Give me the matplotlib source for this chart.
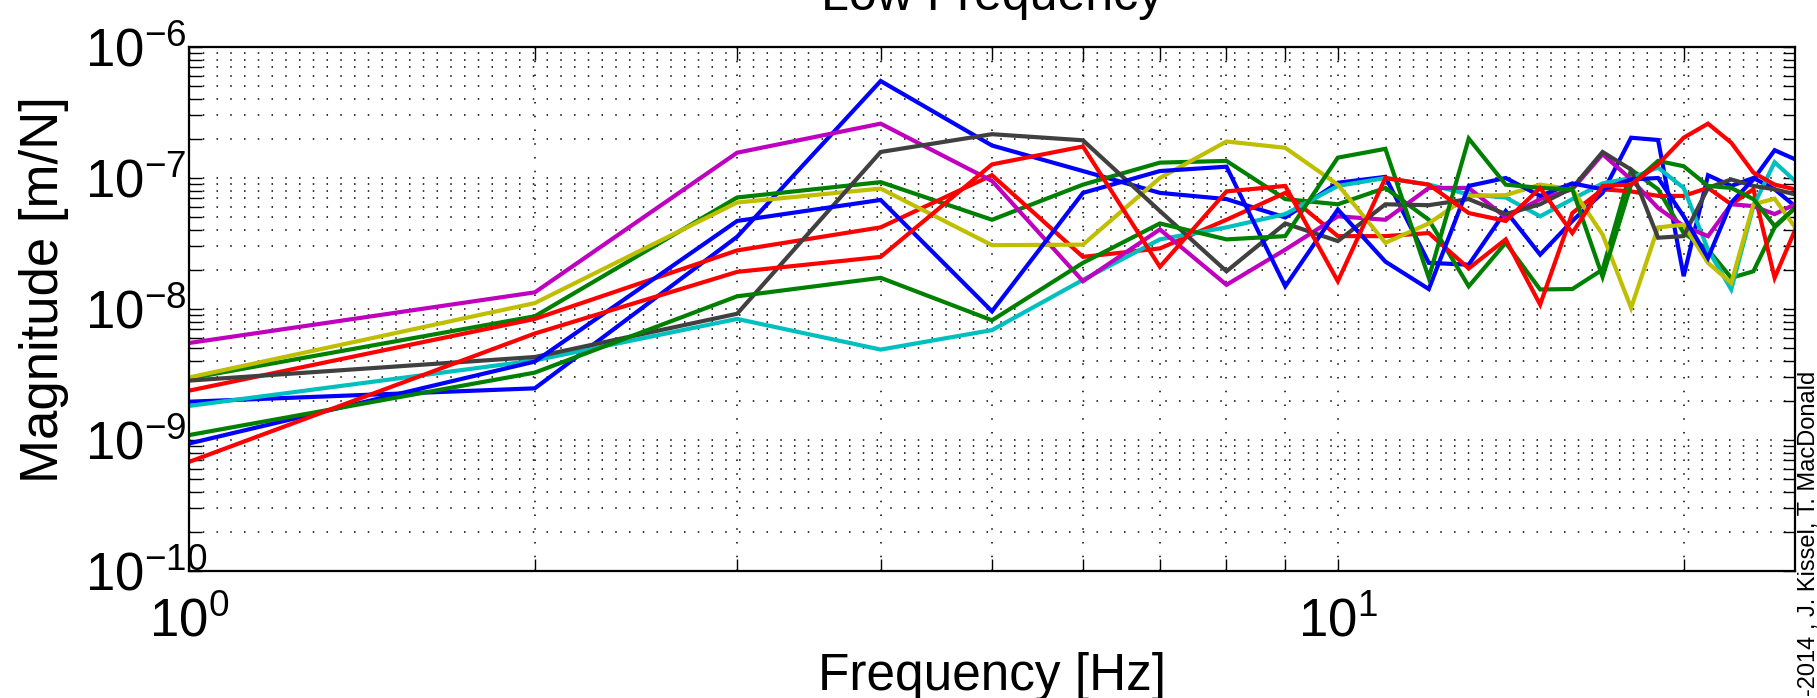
import numpy as np
import matplotlib
matplotlib.use("Agg")
import matplotlib.pyplot as plt
from matplotlib.ticker import FixedLocator, NullFormatter, FixedFormatter, LogLocator

# ---------------- data ----------------
freq = [1, 2, 3, 4, 5, 6, 7, 8, 9, 10, 11, 12, 13, 14, 15, 16, 17, 18, 19, 20, 21, 22, 23, 24, 25]

blue_a = [1.96e-9, 2.48e-9, 3.56e-8, 5.5e-7, 1.77e-7, 1.13e-7, 7.7e-8, 6.9e-8, 5.0e-8, 9.2e-8,
          1.02e-7, 2.25e-8, 2.18e-8, 5.6e-8, 2.6e-8, 4.7e-8, 7.7e-8, 2.03e-7, 1.95e-7, 1.78e-8,
          1.05e-7, 8.7e-8, 1.0e-7, 8.2e-8, 6.1e-8]
green_a = [2.95e-9, 8.8e-9, 7.1e-8, 9.3e-8, 4.8e-8, 8.9e-8, 1.31e-7, 1.35e-7, 6.9e-8, 6.3e-8,
           8.4e-8, 4.8e-8, 1.49e-8, 3.2e-8, 1.41e-8, 1.42e-8, 2.0e-8, 1.16e-7, 8.2e-8, 3.8e-8,
           2.84e-8, 1.73e-8, 1.94e-8, 4.2e-8, 5.9e-8]
red_a = [2.38e-9, 8.4e-9, 2.8e-8, 4.2e-8, 1.05e-7, 2.5e-8, 2.9e-8, 4.8e-8, 7.7e-8, 3.6e-8,
         3.6e-8, 3.8e-8, 2.04e-8, 3.4e-8, 1.08e-8, 5.4e-8, 8.2e-8, 7.9e-8, 7.3e-8, 7.3e-8,
         8.4e-8, 6.3e-8, 8.2e-8, 1.73e-8, 4.0e-8]
cyan = [1.82e-9, 4.05e-9, 8.4e-9, 4.9e-9, 6.9e-9, 1.67e-8, 3.4e-8, 4.2e-8, 5.3e-8, 8.7e-8,
        1.0e-7, 8.9e-8, 7.5e-8, 7.1e-8, 5.1e-8, 6.9e-8, 9.1e-8, 1.0e-7, 1.2e-7, 8.4e-8,
        2.84e-8, 1.41e-8, 6.1e-8, 1.32e-7, 9.5e-8]
magenta = [5.5e-9, 1.34e-8, 1.56e-7, 2.6e-7, 9.5e-8, 1.63e-8, 4.05e-8, 1.53e-8, 2.84e-8, 5.1e-8,
           4.8e-8, 8.4e-8, 8.4e-8, 5.0e-8, 6.9e-8, 8.2e-8, 1.52e-7, 9.75e-8, 5.9e-8, 4.3e-8,
           3.6e-8, 6.3e-8, 6.1e-8, 5.3e-8, 6.3e-8]
yellow = [3.0e-9, 1.11e-8, 6.5e-8, 8.3e-8, 3.07e-8, 3.1e-8, 1.0e-7, 1.9e-7, 1.7e-7, 8.9e-8,
          3.2e-8, 4.5e-8, 7.3e-8, 7.4e-8, 8.9e-8, 8.2e-8, 3.7e-8, 1.02e-8, 4.2e-8, 4.4e-8,
          2.25e-8, 1.58e-8, 6.3e-8, 6.95e-8, 4.2e-8]
gray = [2.84e-9, 4.3e-9, 9.2e-9, 1.58e-7, 2.16e-7, 1.94e-7, 5.6e-8, 1.94e-8, 4.5e-8, 3.3e-8,
        6.3e-8, 6.2e-8, 6.9e-8, 5.3e-8, 6.3e-8, 8.4e-8, 1.58e-7, 1.16e-7, 3.5e-8, 3.6e-8,
        8.4e-8, 9.75e-8, 8.7e-8, 8.2e-8, 7.5e-8]
blue_b = [9.4e-10, 3.97e-9, 4.7e-8, 6.8e-8, 9.6e-9, 7.7e-8, 1.13e-7, 1.22e-7, 1.49e-8, 5.75e-8,
          2.3e-8, 1.42e-8, 8.7e-8, 1.0e-7, 7.3e-8, 9.1e-8, 8.2e-8, 9.75e-8, 1.0e-7, 5.1e-8,
          2.45e-8, 6.5e-8, 9.75e-8, 1.63e-7, 1.39e-7]
green_b = [1.09e-9, 3.27e-9, 1.25e-8, 1.73e-8, 8.2e-9, 2.25e-8, 4.5e-8, 3.4e-8, 3.6e-8, 1.43e-7,
           1.67e-7, 1.73e-8, 2.0e-7, 8.9e-8, 8.4e-8, 8.2e-8, 1.76e-8, 8.9e-8, 1.35e-7, 1.23e-7,
           8.7e-8, 8.4e-8, 6.9e-8, 4.3e-8, 5.9e-8]
red_b = [6.8e-10, 6.5e-9, 1.92e-8, 2.5e-8, 1.27e-7, 1.74e-7, 2.1e-8, 7.9e-8, 8.7e-8, 1.63e-8,
         1.0e-7, 8.9e-8, 5.4e-8, 4.7e-8, 8.4e-8, 3.8e-8, 8.7e-8, 8.9e-8, 1.27e-7, 2.03e-7,
         2.6e-7, 1.86e-7, 1.1e-7, 8.9e-8, 8.2e-8]

series = [blue_a, green_a, red_a, cyan, magenta, yellow, gray, blue_b, green_b, red_b]
colors = [(0, 0, 1), (0, 0.5, 0), (1, 0, 0), (0, 0.75, 0.75), (0.75, 0, 0.75),
          (0.75, 0.75, 0), (0.25, 0.25, 0.25), (0, 0, 1), (0, 0.5, 0), (1, 0, 0)]

xticks = [1, 10]
xtick_labels = [r"$\mathregular{10^{0}}$", r"$\mathregular{10^{1}}$"]
yticks = [1e-10, 1e-9, 1e-8, 1e-7, 1e-6]
ytick_labels = [r"$\mathregular{10^{-10}}$", r"$\mathregular{10^{-9}}$", r"$\mathregular{10^{-8}}$",
                r"$\mathregular{10^{-7}}$", r"$\mathregular{10^{-6}}$"]

# ---------------- style ----------------
plt.rcParams["font.family"] = ["Liberation Sans", "DejaVu Sans"]
plt.rcParams["mathtext.fontset"] = "custom"
plt.rcParams["mathtext.rm"] = "Liberation Sans"
plt.rcParams["mathtext.it"] = "Liberation Sans:italic"
plt.rcParams["mathtext.bf"] = "Liberation Sans:bold"

W, H = 1817, 698
fig = plt.figure(figsize=(W / 100, H / 100), dpi=100)
left, right, top, bottom = 189, 1795, 47, 571
ax = fig.add_axes([left / W, 1 - bottom / H, (right - left) / W, (bottom - top) / H])

for vals, c in zip(series, colors):
    ax.plot(freq, vals, color=c, lw=3.0, solid_joinstyle="miter")

ax.set_xscale("log")
ax.set_yscale("log")
ax.set_xlim(1, 25)
ax.set_ylim(1e-10, 1e-6)

ax.xaxis.set_major_locator(FixedLocator(xticks))
ax.xaxis.set_major_formatter(FixedFormatter(xtick_labels))
ax.xaxis.set_minor_locator(FixedLocator([2, 3, 4, 5, 6, 7, 8, 9, 20]))
ax.xaxis.set_minor_formatter(NullFormatter())
ax.yaxis.set_major_locator(FixedLocator(yticks))
ax.yaxis.set_major_formatter(FixedFormatter(ytick_labels))
ax.yaxis.set_minor_locator(LogLocator(base=10, subs=np.arange(2, 10), numticks=20))
ax.yaxis.set_minor_formatter(NullFormatter())

ax.grid(True, which="both", color="black", linestyle=(0, (1, 8)), linewidth=1.1)
ax.set_axisbelow(True)
for s in ax.spines.values():
    s.set_linewidth(1.6)
ax.tick_params(which="both", direction="in", top=True, right=True, width=1.0, length=9)
ax.tick_params(axis="x", labelsize=38, pad=19)
ax.tick_params(axis="y", labelsize=38, pad=104 * 0.72)
for lab in ax.get_yticklabels():
    lab.set_horizontalalignment("left")

fig.text((left + right) / 2 / W, 1 - 10 / H, "Low Frequency", ha="center", va="baseline", fontsize=36)
fig.text((left + right) / 2 / W, 1 - 690 / H, "Frequency [Hz]", ha="center", va="baseline", fontsize=37)
fig.text(44 / W, 1 - 290 / H, "Magnitude [m/N]", ha="center", va="center", rotation=90, fontsize=38)
fig.text(1809 / W, 2 / H, "-2014 , J. Kissel, T. MacDonald", ha="center", va="bottom",
         rotation=90, fontsize=17)

fig.savefig("out.png", dpi=100)
